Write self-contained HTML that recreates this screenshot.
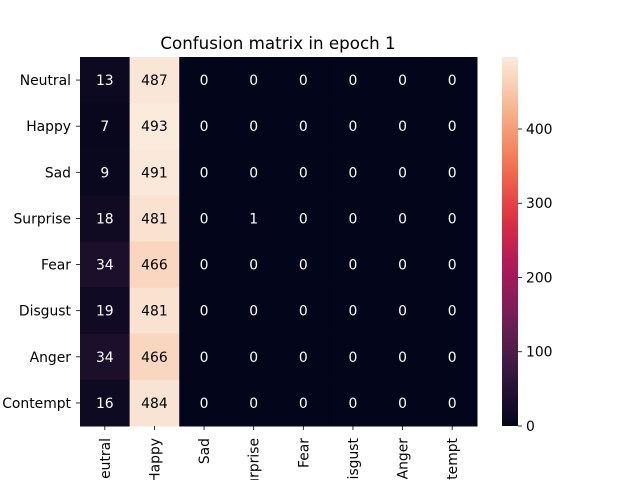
<!DOCTYPE html>
<html><head><meta charset="utf-8"><style>
body{margin:0;background:#fff}
svg{display:block;font-family:"DejaVu Sans","Liberation Sans",sans-serif}
</style></head><body>
<svg id="chart" width="640" height="480" viewBox="0 0 640 480">
<rect width="640" height="480" fill="#fff"/>
<text x="278" y="49" text-anchor="middle" font-size="16.7" fill="#000">Confusion matrix in epoch 1</text>
<g id="cells"></g>
<g id="yticks"></g>
<g id="xticks"></g>
<defs><linearGradient id="cbg" x1="0" y1="1" x2="0" y2="0"></linearGradient></defs>
<g id="cbar"></g>
</svg>
<script>
const labels = ["Neutral","Happy","Sad","Surprise","Fear","Disgust","Anger","Contempt"];
const matrix = [
 [13,487,0,0,0,0,0,0],
 [7,493,0,0,0,0,0,0],
 [9,491,0,0,0,0,0,0],
 [18,481,0,1,0,0,0,0],
 [34,466,0,0,0,0,0,0],
 [19,481,0,0,0,0,0,0],
 [34,466,0,0,0,0,0,0],
 [16,484,0,0,0,0,0,0]
];
const cbTicks = [0,100,200,300,400];

const NS="http://www.w3.org/2000/svg";
const X0=80,X1=477,Y0=57,Y1=426;
const FS=13.9;
const n=labels.length, cw=(X1-X0)/n, ch=(Y1-Y0)/n;
let vmax=0; matrix.forEach(r=>r.forEach(v=>{if(v>vmax)vmax=v;}));
const cbMax=vmax*1.008;
const stops=[[0,[3,5,26]],[1/7,[53,25,62]],[2/7,[112,31,87]],[3/7,[173,23,89]],[4/7,[225,51,66]],[5/7,[243,118,81]],[6/7,[246,180,142]],[1,[250,235,221]]];
function rocket(t){t=Math.max(0,Math.min(1,t));for(let i=1;i<stops.length;i++){if(t<=stops[i][0]){const a=stops[i-1],b=stops[i];const f=(t-a[0])/(b[0]-a[0]);const c=a[1].map((v,k)=>Math.round(v+(b[1][k]-v)*f));return `rgb(${c.join(',')})`;}}return 'rgb(250,235,221)';}
function mk(tag,attrs,parent){const e=document.createElementNS(NS,tag);for(const k in attrs)e.setAttribute(k,attrs[k]);parent.appendChild(e);return e;}
const xs=i=>X0+i*cw, ys=j=>Y0+j*ch;
const cells=document.getElementById('cells');
matrix.forEach((row,j)=>row.forEach((v,i)=>{
 const r=mk('rect',{x:xs(i),y:ys(j),width:cw+0.5,height:ch+0.5,fill:rocket(v/vmax)},cells);
 
 
 const t=mk('text',{x:xs(i)+cw/2,y:ys(j)+ch/2+5,'text-anchor':'middle','font-size':FS,fill:(v/vmax>0.6?'#000':'#fff')},cells);
 t.textContent=v;
 
 
}));
const yt=document.getElementById('yticks'), xt=document.getElementById('xticks');
labels.forEach((l,j)=>{
 mk('line',{x1:X0-4,x2:X0,y1:ys(j)+ch/2,y2:ys(j)+ch/2,stroke:'#000','stroke-width':0.8},yt);
 const t=mk('text',{x:X0-9,y:ys(j)+ch/2+5,'text-anchor':'end','font-size':FS},yt);
 t.textContent=l;
 
 
 const cx=xs(j)+cw/2;
 mk('line',{x1:cx,x2:cx,y1:Y1,y2:Y1+4,stroke:'#000','stroke-width':0.8},xt);
 const t2=mk('text',{x:0,y:0,'text-anchor':'end','font-size':FS,transform:`translate(${cx+5},${Y1+12}) rotate(-90)`},xt);
 t2.textContent=l;
 
 
});
const grad=document.getElementById('cbg');
for(let k=0;k<=20;k++){mk('stop',{offset:(k/20),'stop-color':rocket(k/20)},grad);}
const cb=document.getElementById('cbar');
const CBX=502,CBW=16;
const cbr=mk('rect',{x:CBX,y:Y0,width:CBW,height:Y1-Y0,fill:'url(#cbg)'},cb);


const cbY=v=>Y1-(v/cbMax)*(Y1-Y0);
cbTicks.forEach(v=>{
 mk('line',{x1:CBX+CBW,x2:CBX+CBW+4,y1:cbY(v),y2:cbY(v),stroke:'#000','stroke-width':0.8},cb);
 const t=mk('text',{x:CBX+CBW+8,y:cbY(v)+5,'font-size':FS},cb);
 t.textContent=v;
 
 
});
</script>
</body></html>
